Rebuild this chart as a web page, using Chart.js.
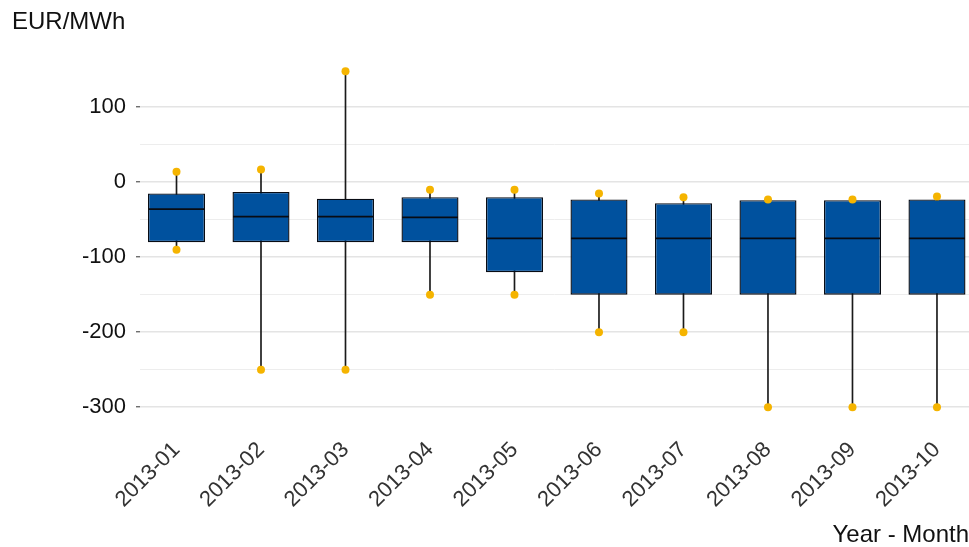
<!DOCTYPE html>
<html>
<head>
<meta charset="utf-8">
<script src="https://cdn.jsdelivr.net/npm/chart.js@4.4.1/dist/chart.umd.min.js"></script>
<style>
  body { margin: 0; background: #fff; }
  #wrap { width: 969px; height: 547px; }
</style>
</head>
<body>
<div id="wrap"><canvas id="boxchart"></canvas></div>
<script>
// monthly spread, EUR/MWh
const months = ['2013-01', '2013-02', '2013-03', '2013-04', '2013-05',
                '2013-06', '2013-07', '2013-08', '2013-09', '2013-10'];
const highs   = [14, 17, 148, -10, -10, -15, -20, -23, -23, -19];
const upperQ  = [-15, -13, -22, -20, -20, -23, -28, -24, -24, -23];
const medians = [-36, -46, -46, -47, -75, -75, -75, -75, -75, -75];
const lowerQ  = [-80, -80, -80, -80, -120, -150, -150, -150, -150, -150];
const lows    = [-90, -250, -250, -150, -150, -200, -200, -300, -300, -300];
const yTicks  = [-300, -250, -200, -150, -100, -50, 0, 50, 100];

const FONT = '"Liberation Sans", Arial, sans-serif';

const whiskers = months.map((m, i) => ({ x: i + 1, y: [lows[i], highs[i]] }));
const boxes = months.map((m, i) => ({ x: i + 1, y: [lowerQ[i], upperQ[i]] }));
const mids = months.map((m, i) => ({ x: i + 1, y: medians[i] }));
const ends = [];
months.forEach((m, i) => {
  ends.push({ x: i + 1, y: highs[i] });
  ends.push({ x: i + 1, y: lows[i] });
});

const ctx = document.getElementById('boxchart').getContext('2d');
new Chart(ctx, {
  type: 'bar',
  data: {
    datasets: [
      {
        data: ends,
        type: 'line',
        showLine: false,
        pointRadius: 4,
        pointBackgroundColor: '#F5B400',
        pointBorderWidth: 0,
        order: 0
      },
      {
        data: mids,
        type: 'line',
        showLine: false,
        pointStyle: 'line',
        pointRadius: 28,
        pointBorderColor: '#080c14',
        pointBorderWidth: 1.6,
        order: 1
      },
      {
        data: boxes,
        backgroundColor: '#00519E',
        borderColor: '#080c14',
        borderWidth: 1.4,
        borderSkipped: false,
        grouped: false,
        categoryPercentage: 1,
        barPercentage: 0.675,
        order: 2
      },
      {
        data: whiskers,
        backgroundColor: '#1a1a1a',
        grouped: false,
        barThickness: 1,
        order: 3
      }
    ]
  },
  options: {
    responsive: true,
    maintainAspectRatio: false,
    animation: false,
    layout: { autoPadding: false, padding: { left: 12, right: 0, top: 0, bottom: 0 } },
    plugins: {
      legend: { display: false },
      tooltip: { enabled: false },
      title: {
        display: true,
        text: 'EUR/MWh',
        align: 'start',
        color: '#111',
        font: { family: FONT, size: 24, weight: 'normal', lineHeight: 1.2 },
        padding: { top: 8, bottom: 16 }
      }
    },
    scales: {
      x: {
        type: 'linear',
        offset: false,
        min: 0.568,
        max: 10.379,
        afterBuildTicks: (s) => { s.ticks = months.map((m, i) => ({ value: i + 1 })); },
        afterFit: (s) => {
          s.height = 123;
          s.paddingLeft = 0;
          s.paddingRight = 0;
        },
        grid: { display: false },
        border: { display: false },
        ticks: {
          autoSkip: false,
          minRotation: 45,
          maxRotation: 45,
          padding: 5,
          color: '#333',
          font: { family: FONT, size: 22 },
          callback: (v) => months[v - 1]
        },
        title: {
          display: true,
          text: 'Year - Month',
          align: 'end',
          color: '#111',
          font: { family: FONT, size: 24, lineHeight: 1 },
          padding: { top: 0, bottom: 0 }
        }
      },
      y: {
        min: -322.5,
        max: 172.5,
        afterBuildTicks: (s) => { s.ticks = yTicks.map(v => ({ value: v })); },
        afterFit: (s) => { s.width = 128; },
        border: { display: false },
        grid: {
          color: (c) => c.tick && c.tick.value % 100 === 0 ? '#e4e4e4' : '#ededed',
          lineWidth: (c) => c.tick && c.tick.value % 100 === 0 ? 1.6 : 1,
          tickColor: (c) => c.tick && c.tick.value % 100 === 0 ? '#333' : 'rgba(0,0,0,0)',
          tickLength: 4,
          tickWidth: 1
        },
        ticks: {
          padding: 10,
          color: '#111',
          font: { family: FONT, size: 22 },
          callback: (v) => v % 100 === 0 ? v : ''
        }
      }
    }
  }
});
</script>
</body>
</html>
